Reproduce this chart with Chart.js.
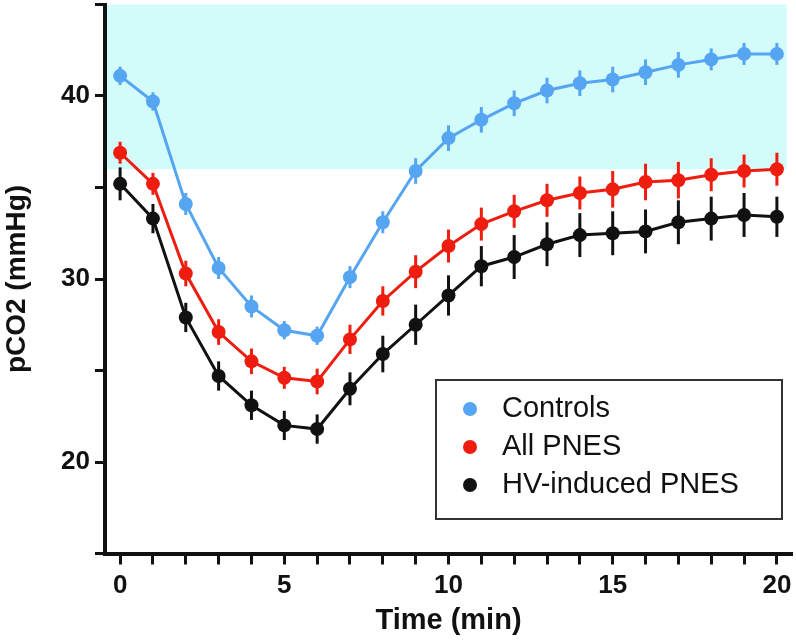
<!DOCTYPE html>
<html>
<head>
<meta charset="utf-8">
<script src="https://cdn.jsdelivr.net/npm/chart.js@4.4.0/dist/chart.umd.min.js"></script>
<style>
  html, body { margin: 0; padding: 0; background: #fff; }
</style>
</head>
<body>
<canvas id="chart" width="796" height="640"></canvas>
<script>
// time points (min)
var minutes = [0,1,2,3,4,5,6,7,8,9,10,11,12,13,14,15,16,17,18,19,20]

// mean pCO2 (mmHg) and error (+/-) per group
var controls    = [41.1,39.7,34.1,30.6,28.5,27.2,26.9,30.1,33.1,35.9,37.7,38.7,39.6,40.3,40.7,40.9,41.3,41.7,42.0,42.3,42.3]
var controlsErr = [0.5,0.5,0.6,0.6,0.6,0.5,0.5,0.6,0.6,0.7,0.7,0.7,0.7,0.7,0.7,0.7,0.7,0.7,0.6,0.6,0.6]
var allPnes     = [36.9,35.2,30.3,27.1,25.5,24.6,24.4,26.7,28.8,30.4,31.8,33.0,33.7,34.3,34.7,34.9,35.3,35.4,35.7,35.9,36.0]
var allPnesErr  = [0.6,0.6,0.7,0.7,0.7,0.6,0.7,0.8,0.8,0.9,0.9,0.9,0.9,0.9,0.9,1.0,1.0,1.0,0.9,0.9,0.9]
var hvPnes      = [35.2,33.3,27.9,24.7,23.1,22.0,21.8,24.0,25.9,27.5,29.1,30.7,31.2,31.9,32.4,32.5,32.6,33.1,33.3,33.5,33.4]
var hvPnesErr   = [0.9,0.8,0.8,0.8,0.8,0.8,0.8,0.9,1.0,1.1,1.1,1.1,1.2,1.2,1.2,1.2,1.2,1.2,1.2,1.2,1.1]

// normal range band
var bandRange = [36, 45]
var bandEndMinute = 20.3

// axis ticks
var xTicks = [0,1,2,3,4,5,6,7,8,9,10,11,12,13,14,15,16,17,18,19,20]
var xLabels = [0,5,10,15,20]
var yTicks = [15,20,25,30,35,40,45]
var yLabels = [20,30,40]

var FONT = 'Liberation Sans, Arial, Helvetica, sans-serif'

function points(values) {
  return minutes.map(function(m, i) { return { x: m, y: values[i] } })
}

var band = {
  id: 'band',
  beforeDraw: function(chart) {
    var x = chart.scales.x, y = chart.scales.y, ctx = chart.ctx
    var left = chart.chartArea.left
    var right = x.getPixelForValue(bandEndMinute)
    var top = y.getPixelForValue(bandRange[1])
    var bottom = y.getPixelForValue(bandRange[0])
    ctx.save()
    ctx.fillStyle = '#d2fbfa'
    ctx.fillRect(left, top, right - left, bottom - top)
    ctx.restore()
  }
}

var errorBars = {
  id: 'errorBars',
  beforeDatasetDraw: function(chart, args) {
    var ds = chart.data.datasets[args.index]
    var y = chart.scales.y
    var ctx = chart.ctx
    ctx.save()
    ctx.strokeStyle = ds.borderColor
    ctx.lineWidth = 3
    args.meta.data.forEach(function(pt, i) {
      var v = ds.data[i].y, e = ds.errors[i]
      ctx.beginPath()
      ctx.moveTo(pt.x, y.getPixelForValue(v + e))
      ctx.lineTo(pt.x, y.getPixelForValue(v - e))
      ctx.stroke()
    })
    ctx.restore()
  }
}

var boxLegend = {
  id: 'boxLegend',
  afterDraw: function(chart) {
    var ctx = chart.ctx
    ctx.save()
    ctx.fillStyle = '#fff'
    ctx.fillRect(436, 380, 346, 139)
    ctx.strokeStyle = '#333'
    ctx.lineWidth = 2
    ctx.strokeRect(436, 380, 346, 139)
    ctx.font = '29px ' + FONT
    ctx.textBaseline = 'middle'
    ctx.textAlign = 'left'
    chart.data.datasets.forEach(function(ds, i) {
      var cy = 409 + i * 38
      ctx.fillStyle = ds.backgroundColor
      ctx.beginPath()
      ctx.arc(470, cy, 7, 0, Math.PI * 2)
      ctx.fill()
      ctx.fillStyle = '#111'
      ctx.fillText(ds.label, 502, cy)
    })
    ctx.restore()
  }
}

function series(label, values, errs, color) {
  return {
    label: label,
    data: points(values),
    errors: errs,
    borderColor: color,
    backgroundColor: color,
    borderWidth: 3,
    pointRadius: 7,
    pointHoverRadius: 7,
    pointBorderWidth: 0,
    tension: 0,
    clip: false
  }
}

var ctx = document.getElementById('chart').getContext('2d')
var chart = new Chart(ctx, {
  type: 'line',
  data: {
    datasets: [
      series('Controls', controls, controlsErr, '#55a5f2'),
      series('All PNES', allPnes, allPnesErr, '#ee1d0f'),
      series('HV-induced PNES', hvPnes, hvPnesErr, '#111111')
    ]
  },
  plugins: [band, errorBars, boxLegend],
  options: {
    responsive: false,
    animation: false,
    devicePixelRatio: 1,
    layout: { autoPadding: false, padding: { top: 4.5, right: 4, left: 0, bottom: 0 } },
    plugins: {
      legend: { display: false },
      tooltip: { enabled: false }
    },
    scales: {
      x: {
        type: 'linear',
        min: -0.46,
        max: 20.46,
        afterFit: function(s) { s.height = 86.5; s.paddingLeft = 0; s.paddingRight = 0 },
        afterBuildTicks: function(s) { s.ticks = xTicks.map(function(v) { return { value: v } }) },
        ticks: {
          autoSkip: false,
          maxRotation: 0,
          padding: 6,
          color: '#111',
          font: { family: FONT, size: 26, weight: 'bold' },
          callback: function(v) { return xLabels.indexOf(v) >= 0 ? String(v) : '' }
        },
        grid: { drawOnChartArea: false, tickLength: 11, tickWidth: 3, color: '#111' },
        border: { width: 4, color: '#111' },
        title: {
          display: true,
          text: 'Time (min)',
          color: '#111',
          font: { family: FONT, size: 29, weight: 'bold' },
          padding: { top: 0, bottom: 2 }
        }
      },
      y: {
        min: 15,
        max: 45,
        afterFit: function(s) { s.width = 105; s.paddingTop = 0; s.paddingBottom = 0 },
        afterBuildTicks: function(s) { s.ticks = yTicks.map(function(v) { return { value: v } }) },
        ticks: {
          autoSkip: false,
          padding: 5,
          color: '#111',
          font: { family: FONT, size: 26, weight: 'bold' },
          callback: function(v) { return yLabels.indexOf(v) >= 0 ? String(v) : '' }
        },
        grid: { drawOnChartArea: false, tickLength: 10, tickWidth: 3, color: '#111' },
        border: { width: 4, color: '#111' },
        title: {
          display: true,
          text: 'pCO2 (mmHg)',
          color: '#111',
          font: { family: FONT, size: 28, weight: 'bold' },
          padding: { top: 0, bottom: 0 }
        }
      }
    }
  }
})
</script>
</body>
</html>
